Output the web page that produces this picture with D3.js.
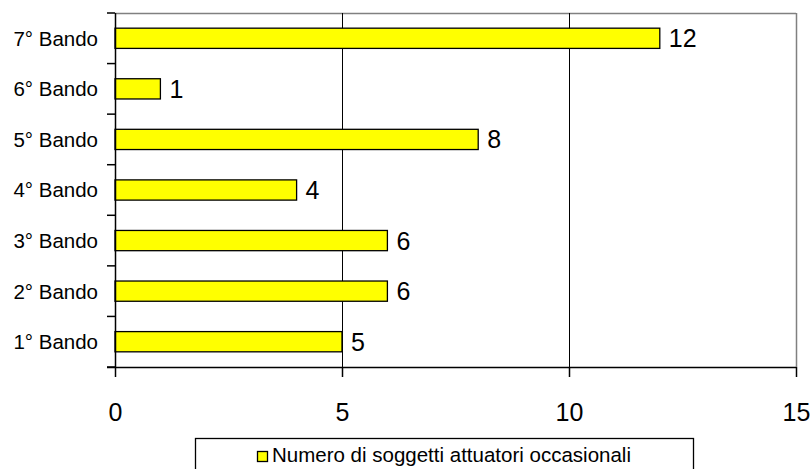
<html>
    <style>
        body {
            margin: 0px;
            background: #fff;
        }
        text {
            font-family: "Liberation Sans", Arial, sans-serif;
        }
    </style>
<body>
    <svg id='viz'></svg>
</body>

<script src='https://d3js.org/d3.v7.min.js'></script>
<script>
// chart data
var categories = ["1° Bando", "2° Bando", "3° Bando", "4° Bando", "5° Bando", "6° Bando", "7° Bando"];
var values = [5, 6, 6, 4, 8, 1, 12];
var xTicks = [0, 5, 10, 15];
var seriesName = "Numero di soggetti attuatori occasionali";

var width = 812;
var height = 469;
var plot = {left: 115, right: 796, top: 13, bottom: 367};

var svg = d3.select("#viz").attr("width", width).attr("height", height);

var x = d3.scaleLinear().domain([0, 15]).range([plot.left, plot.right]);
// categories from bottom to top
var y = d3.scaleBand().domain(categories.slice().reverse()).range([plot.top, plot.bottom]).paddingInner(0.6).paddingOuter(0.3);
var step = y.step();

// plot frame: grey top and right edge
svg.append("line")
    .attr("x1", plot.left).attr("x2", plot.right)
    .attr("y1", plot.top + 0.5).attr("y2", plot.top + 0.5)
    .attr("stroke", "#808080").attr("stroke-width", 1.5);
svg.append("line")
    .attr("x1", plot.right + 0.5).attr("x2", plot.right + 0.5)
    .attr("y1", plot.top).attr("y2", plot.bottom)
    .attr("stroke", "#808080").attr("stroke-width", 1.5);

// vertical gridlines
svg.append("g")
    .selectAll("line")
    .data(xTicks.filter(function(d) { return d > 0 && d < 15; }))
    .enter()
    .append("line")
    .attr("x1", function(d) { return Math.round(x(d)) + 0.5; })
    .attr("x2", function(d) { return Math.round(x(d)) + 0.5; })
    .attr("y1", plot.top)
    .attr("y2", plot.bottom)
    .attr("stroke", "#000")
    .attr("stroke-width", 1);

// bars
svg.append("g")
    .selectAll("rect")
    .data(categories)
    .enter()
    .append("rect")
    .attr("x", x(0))
    .attr("y", function(d) { return y(d); })
    .attr("width", function(d, i) { return x(values[i]) - x(0); })
    .attr("height", y.bandwidth())
    .attr("fill", "#ffff00")
    .attr("stroke", "#000")
    .attr("stroke-width", 1.3);

// value labels
svg.append("g")
    .selectAll("text")
    .data(categories)
    .enter()
    .append("text")
    .attr("x", function(d, i) { return x(values[i]) + 9; })
    .attr("y", function(d) { return y(d) + y.bandwidth() / 2; })
    .attr("dy", "0.36em")
    .style("font-size", "25px")
    .style("fill", "#000")
    .text(function(d, i) { return values[i]; });

// left axis with ticks on band boundaries
var left = svg.append("g");
left.append("line")
    .attr("x1", plot.left + 0.5).attr("x2", plot.left + 0.5)
    .attr("y1", plot.top).attr("y2", plot.bottom)
    .attr("stroke", "#000").attr("stroke-width", 1.5);
left.selectAll("line.tick")
    .data(d3.range(categories.length + 1))
    .enter()
    .append("line")
    .attr("class", "tick")
    .attr("x1", plot.left - 8).attr("x2", plot.left)
    .attr("y1", function(i) { return plot.top + i * step; })
    .attr("y2", function(i) { return plot.top + i * step; })
    .attr("stroke", "#000").attr("stroke-width", 1.5);
left.selectAll("text")
    .data(categories)
    .enter()
    .append("text")
    .attr("x", plot.left - 17)
    .attr("y", function(d) { return y(d) + y.bandwidth() / 2; })
    .attr("dy", "0.36em")
    .attr("text-anchor", "end")
    .style("font-size", "20.5px")
    .style("fill", "#000")
    .text(function(d) { return d; });

// bottom axis
var xAxis = d3.axisBottom(x).tickValues(xTicks).tickSize(10).tickPadding(26);
var gx = svg.append("g")
    .attr("transform", "translate(0," + plot.bottom + ")")
    .call(xAxis);
gx.select(".domain").remove();
gx.append("line")
    .attr("x1", plot.left - 8).attr("x2", plot.right)
    .attr("y1", 0.5).attr("y2", 0.5)
    .attr("stroke", "#000").attr("stroke-width", 1.5);
gx.selectAll(".tick line").attr("stroke", "#000").attr("stroke-width", 1.5);
gx.selectAll(".tick text")
    .style("font-size", "25px")
    .style("font-family", "'Liberation Sans', Arial, sans-serif")
    .attr("fill", "#000");

// legend
var legend = svg.append("g");
legend.append("rect")
    .attr("x", 195.5).attr("y", 438.5)
    .attr("width", 498).attr("height", 50)
    .attr("fill", "#fff")
    .attr("stroke", "#000").attr("stroke-width", 1.3);
legend.append("rect")
    .attr("x", 257.5).attr("y", 451.5)
    .attr("width", 10).attr("height", 10)
    .attr("fill", "#ffff00")
    .attr("stroke", "#000").attr("stroke-width", 1.3);
legend.append("text")
    .attr("x", 272)
    .attr("y", 462)
    .style("font-size", "20.5px")
    .style("fill", "#000")
    .text(seriesName);
</script>
</html>
